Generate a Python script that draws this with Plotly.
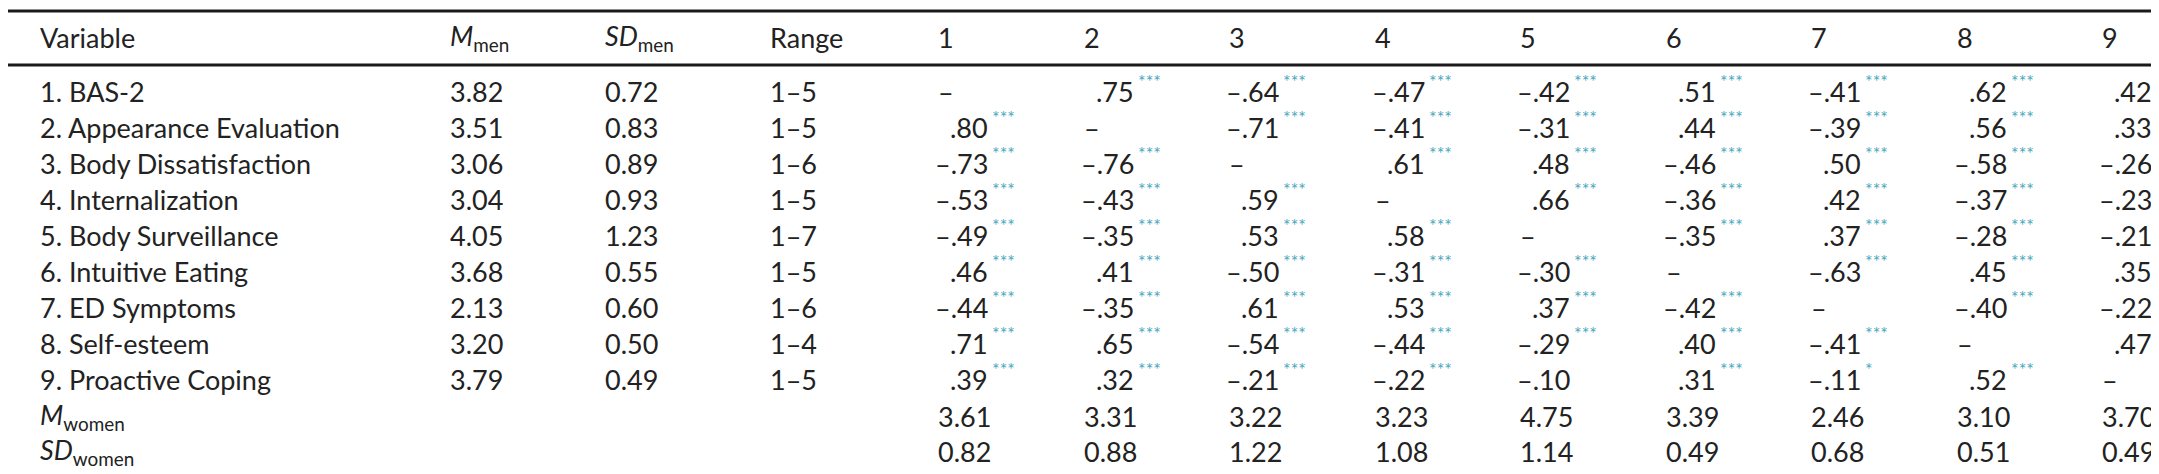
import plotly.graph_objects as go

variables = ["1. BAS-2", "2. Appearance Evaluation", "3. Body Dissatisfaction", "4. Internalization",
             "5. Body Surveillance", "6. Intuitive Eating", "7. ED Symptoms", "8. Self-esteem", "9. Proactive Coping"]
m_men = ["3.82", "3.51", "3.06", "3.04", "4.05", "3.68", "2.13", "3.20", "3.79"]
sd_men = ["0.72", "0.83", "0.89", "0.93", "1.23", "0.55", "0.60", "0.50", "0.49"]
ranges = ["1–5", "1–5", "1–6", "1–5", "1–7", "1–5", "1–6", "1–4", "1–5"]
corr = [
    [None, .75, -.64, -.47, -.42, .51, -.41, .62, .42],
    [.80, None, -.71, -.41, -.31, .44, -.39, .56, .33],
    [-.73, -.76, None, .61, .48, -.46, .50, -.58, -.26],
    [-.53, -.43, .59, None, .66, -.36, .42, -.37, -.23],
    [-.49, -.35, .53, .58, None, -.35, .37, -.28, -.21],
    [.46, .41, -.50, -.31, -.30, None, -.63, .45, .35],
    [-.44, -.35, .61, .53, .37, -.42, None, -.40, -.22],
    [.71, .65, -.54, -.44, -.29, .40, -.41, None, .47],
    [.39, .32, -.21, -.22, -.10, .31, -.11, .52, None],
]
stars = [["***"] * 9 for _ in range(9)]
stars[8][4] = ""
stars[8][6] = "*"
m_women = ["3.61", "3.31", "3.22", "3.23", "4.75", "3.39", "2.46", "3.10", "3.70"]
sd_women = ["0.82", "0.88", "1.22", "1.08", "1.14", "0.49", "0.68", "0.51", "0.49"]
col_headers = [str(i) for i in range(1, 10)]

W, H = 2159, 474
FONT = "Lato"
FS = 27
TXT = "#222222"
STAR = "#4aa8c0"
header_y = 29
row_y = [83, 119, 155, 191, 227, 263, 299, 335, 371, 408, 443]
x_var, x_m, x_sd, x_rng = 30, 440, 595, 760
col_x = [928 + i * 145.5 for i in range(9)]

def fmt(v):
    s = f"{abs(v):.2f}".lstrip("0")
    return ("–" if v < 0 else "") + s

ann = []
def add(x, y, t, anchor="left", size=FS, color=TXT, yshift=0):
    ann.append(dict(x=x, y=y, xref="x", yref="y", text=t, showarrow=False, xanchor=anchor,
                    yanchor="middle", yshift=yshift, font=dict(family=FONT, size=size, color=color)))

add(x_var, header_y, "Variable")
add(x_m, header_y, "<i>M</i><sub>men</sub>")
add(x_sd, header_y, "<i>SD</i><sub>men</sub>")
add(x_rng, header_y, "Range")
for j, h in enumerate(col_headers):
    add(col_x[j], header_y, h)

for i, name in enumerate(variables):
    y = row_y[i]
    add(x_var, y, name)
    add(x_m, y, m_men[i])
    add(x_sd, y, sd_men[i])
    add(x_rng, y, ranges[i])
    for j in range(9):
        v = corr[i][j]
        if v is None:
            add(col_x[j], y, "–")
            continue
        add(col_x[j] + 54, y, fmt(v), anchor="right")
        if stars[i][j]:
            add(col_x[j] + 54, y, stars[i][j], size=18, color=STAR, yshift=10)

add(x_var, row_y[9], "<i>M</i><sub>women</sub>")
add(x_var, row_y[10], "<i>SD</i><sub>women</sub>")
for j in range(9):
    add(col_x[j], row_y[9], m_women[j])
    add(col_x[j], row_y[10], sd_women[j])

shapes = [dict(type="line", xref="x", yref="y", x0=0, x1=W, y0=yy, y1=yy,
               line=dict(color="#1a1a1a", width=3)) for yy in (3, 57, 470)]

fig = go.Figure(go.Scatter(x=[0, W], y=[0, H], mode="markers", marker=dict(opacity=0), hoverinfo="skip"))
fig.update_layout(width=W, height=H, margin=dict(l=0, r=0, t=0, b=0), paper_bgcolor="white",
                  plot_bgcolor="white", showlegend=False, annotations=ann, shapes=shapes,
                  xaxis=dict(range=[0, W], visible=False, fixedrange=True),
                  yaxis=dict(range=[H, 0], visible=False, fixedrange=True))
fig.write_html("out.html")
